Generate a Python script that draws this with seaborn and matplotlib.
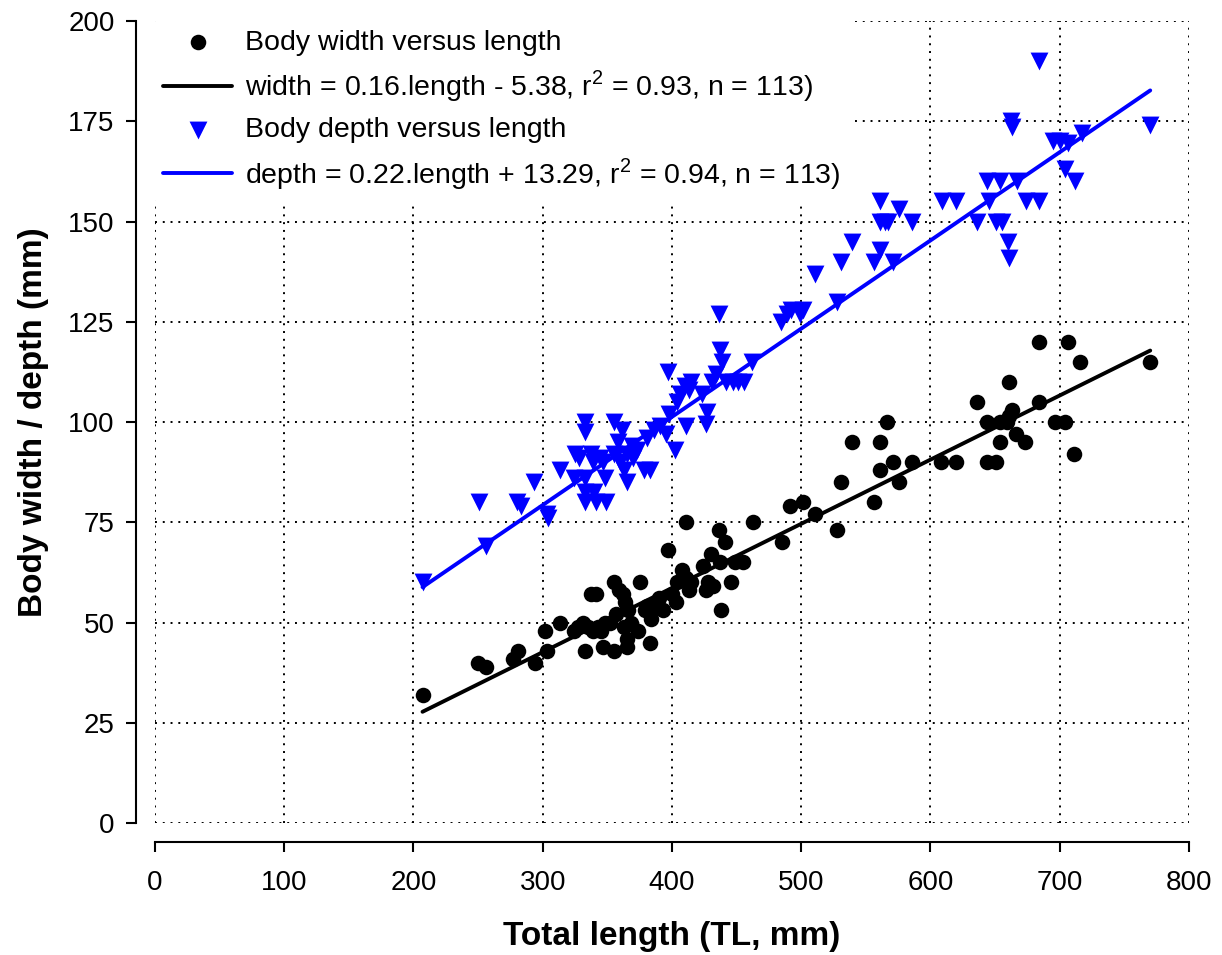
"""Body width and depth versus total length."""
import pandas as pd
import seaborn as sns
import matplotlib.pyplot as plt

# body width (black circles)
width_len = [207, 250, 256, 277, 281, 294, 302, 303, 313, 324,
             327, 331, 333, 335, 337, 339, 341, 343, 345, 347,
             348, 352, 355, 355, 357, 359, 362, 363, 364, 365,
             365, 366, 368, 374, 375, 379, 381, 383, 384, 387,
             390, 393, 397, 400, 403, 404, 408, 411, 411, 413,
             415, 424, 426, 428, 430, 432, 436, 437, 438, 441,
             446, 449, 455, 463, 485, 491, 501, 511, 528, 531,
             539, 556, 561, 561, 566, 571, 576, 586, 608, 620,
             636, 644, 644, 651, 654, 654, 659, 661, 661, 663,
             666, 673, 684, 684, 696, 704, 706, 711, 716, 770]
width_val = [32, 40, 39, 41, 43, 40, 48, 43, 50, 48,
             49, 50, 43, 49, 57, 48, 57, 49, 48, 44,
             50, 50, 60, 43, 52, 58, 57, 49, 55, 46,
             44, 53, 50, 48, 60, 53, 54, 45, 51, 54,
             56, 53, 68, 57, 55, 60, 63, 61, 75, 58,
             60, 64, 58, 60, 67, 59, 73, 65, 53, 70,
             60, 65, 65, 75, 70, 79, 80, 77, 73, 85,
             95, 80, 95, 88, 100, 90, 85, 90, 90, 90,
             105, 100, 90, 90, 100, 95, 100, 110, 101.5, 103,
             97, 95, 120, 105, 100, 100, 120, 92, 115, 115]

# body depth (blue triangles)
depth_len = [207, 251, 256, 280, 283, 293, 303, 304, 313, 324,
             325, 328, 333, 333, 333, 333, 333, 337, 339, 340,
             341, 344, 347, 348, 349, 355, 355, 358, 360, 361,
             363, 365, 365, 369, 370, 373, 378, 381, 383, 386,
             391, 395, 397, 398, 402, 404, 406, 410, 411, 413,
             415, 423, 426, 427, 431, 434, 436, 437, 439, 442,
             447, 451, 456, 462, 484, 489, 492, 499, 501, 511,
             528, 531, 539, 556, 561, 561, 561, 565, 567, 571,
             576, 586, 609, 620, 636, 644, 645, 651, 654, 655,
             660, 661, 662, 663, 667, 674, 684, 684, 695, 700,
             704, 706, 712, 717, 770]
depth_val = [60, 80, 69, 80, 79, 85, 77, 76, 88, 86,
             92, 91, 100, 97.5, 86, 82.5, 80, 92, 90, 82.5,
             80, 91, 90, 86, 80, 100, 92, 95, 90, 98,
             88, 92, 85, 94, 91, 93, 88, 96, 88, 98,
             99, 97, 112.5, 102, 93, 105, 107, 109, 99, 108,
             110, 107, 99.5, 102.5, 110, 112, 127, 118, 115, 110,
             110, 110, 110, 115, 125, 127, 128, 127, 128, 137,
             130, 140, 145, 140, 143, 150, 155, 150, 150, 140,
             153, 150, 155, 155, 150, 160, 155, 150, 160, 150,
             145, 141, 175, 173.5, 160, 155, 155, 190, 170, 170,
             163, 169.5, 160, 172, 174]

# fitted lines as reported
width_fit = (0.16, -5.38)
depth_fit = (0.22, 13.29)
width_label = r"width = 0.16.length - 5.38, r$^{\mathsf{2}}$ = 0.93, n = 113)"
depth_label = r"depth = 0.22.length + 13.29, r$^{\mathsf{2}}$ = 0.94, n = 113)"

width_df = pd.DataFrame({"length": width_len, "value": width_val})
depth_df = pd.DataFrame({"length": depth_len, "value": depth_val})
ends = [min(width_len), max(width_len)]
width_line = pd.DataFrame({"length": ends,
                           "value": [width_fit[0] * x + width_fit[1] for x in ends]})
depth_line = pd.DataFrame({"length": ends,
                           "value": [depth_fit[0] * x + depth_fit[1] for x in ends]})

sns.set_style("white")
plt.rcParams["font.family"] = ["Liberation Sans", "DejaVu Sans"]
plt.rcParams["mathtext.fontset"] = "custom"
plt.rcParams["mathtext.rm"] = "Liberation Sans"
plt.rcParams["mathtext.sf"] = "Liberation Sans"
plt.rcParams["text.color"] = "black"
plt.rcParams["axes.labelcolor"] = "black"

fig = plt.figure(figsize=(12.22, 9.55), dpi=100)
ax = fig.add_axes([0.1268, 0.1382, 0.8462, 0.8398])

sns.scatterplot(x="length", y="value", data=width_df, ax=ax, color="black",
                marker="o", s=125, linewidth=0, zorder=3,
                label="Body width versus length")
sns.lineplot(x="length", y="value", data=width_line, ax=ax, color="black",
             linewidth=2.8, zorder=2, label=width_label)
sns.scatterplot(x="length", y="value", data=depth_df, ax=ax, color="#0000ff",
                marker="v", s=165, linewidth=0, zorder=3,
                label="Body depth versus length")
sns.lineplot(x="length", y="value", data=depth_line, ax=ax, color="#0000ff",
             linewidth=2.8, zorder=2, label=depth_label)

ax.set_xlim(0, 800)
ax.set_ylim(0, 200)
ax.set_xticks(range(0, 801, 100))
ax.set_yticks(range(0, 201, 25))
ax.grid(True, color="black", linestyle=(0, (1, 3)), linewidth=1.4)
ax.set_axisbelow(True)

for side in ["top", "right"]:
    ax.spines[side].set_visible(False)
ax.spines["left"].set_position(("outward", 14))
ax.spines["bottom"].set_position(("outward", 14))
ax.spines["left"].set_bounds(0, 200)
ax.spines["bottom"].set_bounds(0, 800)
for side in ["left", "bottom"]:
    ax.spines[side].set_linewidth(1.5)
    ax.spines[side].set_color("black")
ax.tick_params(direction="out", length=7, width=1.5, labelsize=20,
               colors="black", left=True, bottom=True)
ax.tick_params(axis="x", pad=13)
ax.tick_params(axis="y", pad=8)

ax.set_xlabel("Total length (TL, mm)", fontsize=24, fontweight="bold", labelpad=18)
ax.set_ylabel("Body width / depth (mm)", fontsize=24, fontweight="bold", labelpad=14)

leg = ax.legend(loc="upper left", bbox_to_anchor=(0, 1.0), fontsize=20.5,
                frameon=True, framealpha=1, facecolor="white", edgecolor="white",
                handlelength=2.4, handletextpad=0.45, borderpad=0.3,
                borderaxespad=0, labelspacing=0.45, fancybox=False)
leg.set_zorder(5)

fig.savefig("out.png", dpi=100)
